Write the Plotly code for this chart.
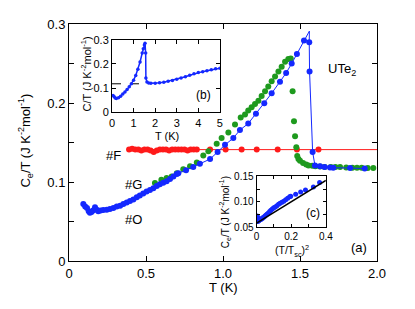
import plotly.graph_objects as go

# ---- main panel (a) data ----
o_T = [0.093, 0.105, 0.117, 0.128, 0.136, 0.146, 0.156, 0.169, 0.18, 0.19, 0.205, 0.223, 0.245, 0.266,
       0.288, 0.31, 0.332, 0.353, 0.375, 0.396, 0.418, 0.44, 0.46, 0.482, 0.504, 0.526, 0.548, 0.57,
       0.59, 0.612, 0.634, 0.656, 0.678, 0.70, 0.71, 0.76, 0.807, 0.85, 0.916, 0.965, 1.013, 1.067,
       1.11, 1.164, 1.214, 1.268, 1.316, 1.37, 1.41, 1.446, 1.48, 1.526, 1.56, 1.562, 1.582, 1.597,
       1.63, 1.66, 1.695, 1.716, 1.825, 1.92]
o_C = [0.072, 0.069, 0.067, 0.063, 0.061, 0.062, 0.064, 0.068, 0.065, 0.063, 0.064, 0.0646, 0.065, 0.0658,
       0.067, 0.069, 0.070, 0.072, 0.074, 0.076, 0.078, 0.0806, 0.083, 0.0855, 0.088, 0.0898, 0.092, 0.095,
       0.097, 0.099, 0.101, 0.1037, 0.107, 0.110, 0.111, 0.115, 0.119, 0.123, 0.129, 0.138, 0.147, 0.1556,
       0.1658, 0.174, 0.1864, 0.1996, 0.2123, 0.227, 0.238, 0.250, 0.262, 0.279, 0.277, 0.240, 0.138, 0.121,
       0.120, 0.119, 0.1185, 0.118, 0.1177, 0.117]
o_peak_T = 1.561
o_peak_C = 0.291

g_T = [0.558, 0.60, 0.634, 0.667, 0.70, 0.742, 0.786, 0.83, 0.872, 0.905, 0.959, 0.991, 1.035, 1.078,
       1.115, 1.143, 1.164, 1.186, 1.208, 1.23, 1.251, 1.273, 1.294, 1.316, 1.338, 1.36, 1.381, 1.403,
       1.424, 1.44, 1.452, 1.461, 1.468, 1.476, 1.482, 1.49, 1.50, 1.52, 1.54, 1.555, 1.58, 1.60, 1.63,
       1.66, 1.70, 1.73, 1.76, 1.80, 1.84, 1.87, 1.90, 1.94, 1.976]
g_C = [0.0988, 0.1028, 0.105, 0.107, 0.111, 0.116, 0.120, 0.1247, 0.1337, 0.139, 0.1485, 0.1556, 0.1626, 0.1728,
       0.1815, 0.1856, 0.1905, 0.1947, 0.1988, 0.2028, 0.209, 0.215, 0.221, 0.2275, 0.2337, 0.240, 0.246, 0.2522,
       0.2556, 0.2564, 0.215, 0.177, 0.158, 0.144, 0.133, 0.129, 0.127, 0.124, 0.122, 0.121, 0.1205, 0.120, 0.1195,
       0.119, 0.119, 0.119, 0.119, 0.1185, 0.118, 0.118, 0.118, 0.1178, 0.1177]

f_T = [0.39, 0.41, 0.43, 0.45, 0.47, 0.49, 0.51, 0.53, 0.55, 0.57, 0.59, 0.61, 0.63, 0.65, 0.67, 0.69,
       0.71, 0.73, 0.75, 0.77, 0.79, 0.81, 0.83, 0.916, 1.017, 1.121, 1.219, 1.355, 1.48, 1.62]
f_C = [0.141, 0.142, 0.141, 0.141, 0.140, 0.141, 0.141, 0.140, 0.138, 0.140, 0.141, 0.141, 0.141, 0.140,
       0.141, 0.141, 0.141, 0.141, 0.141, 0.140, 0.141, 0.141, 0.141, 0.141, 0.141, 0.141, 0.141, 0.141,
       0.141, 0.141]
f_fit_T = [0.39, 2.0]
f_fit_C = [0.141, 0.141]

# ---- inset (b) data ----
b_T = [0.05, 0.1, 0.15, 0.2, 0.3, 0.4, 0.5, 0.6, 0.7, 0.8, 0.9, 1.0, 1.1, 1.2, 1.3, 1.4, 1.45, 1.5, 1.53,
       1.56, 1.57, 1.62, 1.7, 1.8, 2.0, 2.2, 2.4, 2.6, 2.8, 3.0, 3.2, 3.4, 3.6, 3.8, 4.0, 4.2, 4.4, 4.6,
       4.8, 5.0]
b_C = [0.070, 0.065, 0.059, 0.057, 0.060, 0.067, 0.076, 0.084, 0.094, 0.106, 0.118, 0.133, 0.152, 0.178,
       0.208, 0.245, 0.262, 0.278, 0.285, 0.245, 0.142, 0.125, 0.121, 0.120, 0.120, 0.122, 0.124, 0.128,
       0.132, 0.137, 0.142, 0.147, 0.153, 0.159, 0.164, 0.168, 0.172, 0.176, 0.180, 0.182]
b_fit_T = [0.0, 1.65]
b_fit_C = [0.118, 0.118]

# ---- inset (c) data ----
T_sc = 1.6
c_T_max = 1.0
c_fit_x = [0.0, 0.4]
c_fit_y = [0.058, 0.142]

BLUE = "#1428ff"
GREEN = "#1e9a1e"
RED = "#ff1a1a"
FONT = "Arial, Liberation Sans, sans-serif"

# blue line with the peak inserted
line_T, line_C = [], []
for t, c in zip(o_T, o_C):
    if t >= 1.56 and o_peak_T not in line_T:
        line_T.append(o_peak_T)
        line_C.append(o_peak_C)
    line_T.append(t)
    line_C.append(c)

c_x = [(t / T_sc) ** 2 for t in o_T if t <= c_T_max]
c_y = [c for t, c in zip(o_T, o_C) if t <= c_T_max]

fig = go.Figure()
# main
fig.add_trace(go.Scatter(x=f_fit_T, y=f_fit_C, mode="lines", line=dict(color=RED, width=1), showlegend=False))
fig.add_trace(go.Scatter(x=f_T, y=f_C, mode="markers", marker=dict(color=RED, size=6), showlegend=False))
fig.add_trace(go.Scatter(x=g_T, y=g_C, mode="markers", marker=dict(color=GREEN, size=6), showlegend=False))
fig.add_trace(go.Scatter(x=line_T, y=line_C, mode="lines", line=dict(color=BLUE, width=1), showlegend=False))
fig.add_trace(go.Scatter(x=o_T, y=o_C, mode="markers", marker=dict(color=BLUE, size=6), showlegend=False))
# inset b
fig.add_trace(go.Scatter(x=b_fit_T, y=b_fit_C, mode="lines", line=dict(color="black", width=1, dash="dash"),
                         xaxis="x2", yaxis="y2", showlegend=False))
fig.add_trace(go.Scatter(x=b_T, y=b_C, mode="lines+markers", line=dict(color=BLUE, width=1.5),
                         marker=dict(color=BLUE, size=3.5), xaxis="x2", yaxis="y2", showlegend=False))
# inset c
fig.add_trace(go.Scatter(x=c_x, y=c_y, mode="markers", marker=dict(color=BLUE, size=5),
                         xaxis="x3", yaxis="y3", showlegend=False))
fig.add_trace(go.Scatter(x=c_fit_x, y=c_fit_y, mode="lines", line=dict(color="black", width=1.5),
                         xaxis="x3", yaxis="y3", showlegend=False))

ax_common = dict(showline=True, linecolor="black", linewidth=1, mirror="ticks", ticks="inside",
                 tickcolor="black", showgrid=False, zeroline=False)

# page body has an 8px margin: figure is sized so it fits the 415x309 window
fig.update_layout(
    width=399, height=293,
    margin=dict(l=61, r=30, t=9, b=40),
    paper_bgcolor="white", plot_bgcolor="white",
    font=dict(family=FONT, color="black", size=13),
    xaxis=dict(range=[0, 2.0], tickvals=[0, 0.5, 1.0, 1.5, 2.0], ticktext=["0", "0.5", "1.0", "1.5", "2.0"],
               ticklen=5, tickfont=dict(size=13), domain=[0, 1], anchor="y", **ax_common),
    yaxis=dict(range=[0, 0.3], tickvals=[0, 0.05, 0.1, 0.15, 0.2, 0.25, 0.3],
               ticktext=["0", "", "0.1", "", "0.2", "", "0.3"], ticklen=5, tickfont=dict(size=13),
               domain=[0, 1], anchor="x", **ax_common),
    xaxis2=dict(range=[0, 5], tickvals=[0, 1, 2, 3, 4, 5], ticklen=4, tickfont=dict(size=11),
                domain=[0.1396, 0.490], anchor="y2", **ax_common),
    yaxis2=dict(range=[0, 0.3], tickvals=[0, 0.1, 0.2, 0.3], ticktext=["0", "0.1", "0.2", "0.3"],
                ticklen=4, tickfont=dict(size=11), domain=[0.627, 0.934], anchor="x2", **ax_common),
    xaxis3=dict(range=[0, 0.4], tickvals=[0, 0.1, 0.2, 0.3, 0.4], ticktext=["0", "", "0.2", "", "0.4"],
                ticklen=3, tickfont=dict(size=10), domain=[0.609, 0.834], anchor="y3", **ax_common),
    yaxis3=dict(range=[0.05, 0.15], tickvals=[0.05, 0.075, 0.1, 0.125, 0.15],
                ticktext=["0.05", "", "0.10", "", "0.15"], ticklen=3, tickfont=dict(size=10),
                domain=[0.143, 0.357], anchor="x3", **ax_common),
)

def ann(x, y, text, size=13, angle=0):
    fig.add_annotation(x=x, y=y, xref="paper", yref="paper", text=text, showarrow=False,
                       font=dict(size=size, family=FONT, color="black"), textangle=angle,
                       xanchor="center", yanchor="middle")

ann(-0.143, 0.508, "C<sub>e</sub>/T (J K<sup>-2</sup>mol<sup>-1</sup>)", 13, -90)
ann(0.5, -0.112, "T (K)", 13)
ann(0.055, 0.791, "C/T (J K<sup>-2</sup>mol<sup>-1</sup>)", 11, -90)
ann(0.318, 0.529, "T (K)", 11)
ann(0.506, 0.205, "C<sub>e</sub>/T (J K<sup>-2</sup>mol<sup>-1</sup>)", 10, -90)
ann(0.724, 0.043, "(T/T<sub>sc</sub>)<sup>2</sup>", 10.5)
ann(0.146, 0.447, "#F", 13)
ann(0.208, 0.324, "#G", 13)
ann(0.208, 0.176, "#O", 13)
ann(0.886, 0.807, "UTe<sub>2</sub>", 13)
ann(0.942, 0.057, "(a)", 13)
ann(0.437, 0.701, "(b)", 12)
ann(0.792, 0.201, "(c)", 12)

fig.write_html("out.html")
